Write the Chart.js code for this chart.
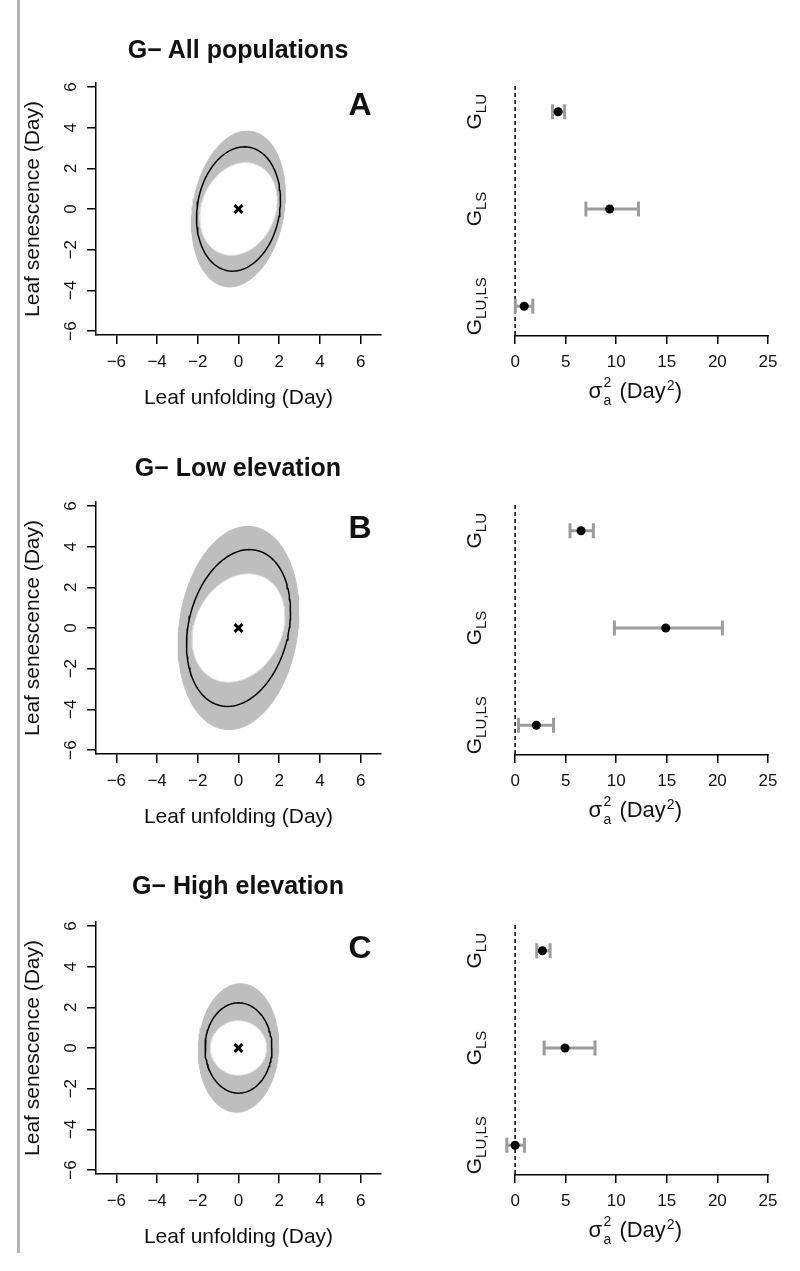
<!DOCTYPE html>
<html lang="en">
<head>
    <meta charset="UTF-8">
    <title>G matrices of leaf phenology</title>
    <script src="https://cdn.jsdelivr.net/npm/chart.js"></script>
    <style>
        body { margin: 0; background: #fff; }
        #page {
            position: relative;
            width: 800px;
            height: 1271px;
            font-family: "Liberation Sans", Arial, sans-serif;
            color: #111;
        }
        #page canvas { position: absolute; }
        .sideBar { position: absolute; left: 17px; top: 0; width: 3px; height: 1253px; background: #b4b4b4; }
        .rowTitle {
            position: absolute; left: 38px; width: 400px;
            text-align: center; font-weight: bold; font-size: 25px; line-height: 25px;
        }
        .letter {
            position: absolute; left: 330px; width: 60px;
            text-align: center; font-weight: bold; font-size: 32px; line-height: 32px;
        }
    </style>
</head>
<body>
<div id="page">
    <div class="sideBar"></div>
</div>

<script>
    // ---- data ----
    const rowTitles = ['G\u2212 All populations', 'G\u2212 Low elevation', 'G\u2212 High elevation'];
    const rowLetters = ['A', 'B', 'C'];
    const leafTicks = [-6, -4, -2, 0, 2, 4, 6];
    const varTicks = [0, 5, 10, 15, 20, 25];
    const components = ['LU', 'LS', 'LU,LS'];
    const componentRows = [3, 2, 1];
    const centreMark = [0, 0];

    // G elements (Day^2), order: var LU, var LS, cov LU-LS
    const modeAll = [4.25, 9.35, 0.9];
    const lowerAll = [3.7, 7.0, 0.02];
    const upperAll = [4.9, 12.2, 1.75];

    const modeLow = [6.52, 14.9, 2.1];
    const lowerLow = [5.43, 9.82, 0.33];
    const upperLow = [7.74, 20.5, 3.8];

    const modeHigh = [2.7, 4.94, 0.0];
    const lowerHigh = [2.14, 2.87, -0.82];
    const upperHigh = [3.46, 7.9, 0.92];

    // outer / inner edge of the grey cloud of posterior ellipses, same order
    const cloudOuterAll = [5.3, 14.7, 1.65];
    const cloudInnerAll = [3.6, 5.2, 0.8];
    const cloudOuterLow = [8.8, 25.0, 2.3];
    const cloudInnerLow = [5.2, 7.1, 1.3];
    const cloudOuterHigh = [3.9, 10.0, 0.3];
    const cloudInnerHigh = [1.9, 1.8, 0.0];

    const rows = [
        { mode: modeAll, lower: lowerAll, upper: upperAll, outer: cloudOuterAll, inner: cloudInnerAll },
        { mode: modeLow, lower: lowerLow, upper: upperLow, outer: cloudOuterLow, inner: cloudInnerLow },
        { mode: modeHigh, lower: lowerHigh, upper: upperHigh, outer: cloudOuterHigh, inner: cloudInnerHigh }
    ];

    // ---- layout (page pixels) ----
    const rowTop = [0, 419, 839];
    const titleTop = [37, 455, 873];
    const letterTop = [88, 511, 931];
    const rightYMin = 0.704, rightYMax = 3.296;

    Chart.defaults.font.family = '"Liberation Sans", Arial, sans-serif';
    Chart.defaults.color = '#111';

    // 1-sd contour of a 2x2 covariance [vx, vy, cov]
    function ellipse(g) {
        const a = Math.sqrt(g[0]);
        const b = g[2] / a;
        const d = Math.sqrt(g[1] - b * b);
        const pts = [];
        for (let k = 0; k <= 120; k++) {
            const t = k / 120 * 2 * Math.PI;
            pts.push({ x: a * Math.cos(t), y: b * Math.cos(t) + d * Math.sin(t) });
        }
        return pts;
    }

    const minusFmt = v => v < 0 ? '\u2212' + Math.abs(v) : String(v);
    const axisGrid = {
        drawOnChartArea: false, drawTicks: true, tickLength: 9,
        color: '#000', tickColor: '#000', lineWidth: 1.5, tickWidth: 1.5
    };
    const tickFont = { size: 17 };

    function leftChart(canvas, r) {
        return new Chart(canvas, {
            type: 'line',
            data: {
                datasets: [
                    { data: [{ x: centreMark[0], y: centreMark[1] }], showLine: false, pointStyle: 'crossRot',
                      pointRadius: 5.5, pointBorderWidth: 3, pointBorderColor: '#000', order: 1 },
                    { data: ellipse(r.mode), borderColor: '#000', borderWidth: 1.5, pointRadius: 0, fill: false, order: 2 },
                    { data: ellipse(r.inner), borderColor: '#e2e2e2', borderWidth: 1, backgroundColor: '#fff',
                      pointRadius: 0, fill: 'shape', order: 3 },
                    { data: ellipse(r.outer), borderColor: '#bebebe', borderWidth: 1, backgroundColor: '#bebebe',
                      pointRadius: 0, fill: 'shape', order: 4 }
                ]
            },
            options: {
                responsive: false,
                animation: false,
                events: [],
                layout: { padding: { left: 0, right: 19, top: 83, bottom: 0 } },
                plugins: { legend: { display: false }, tooltip: { enabled: false } },
                scales: {
                    x: {
                        type: 'linear', min: -7, max: 7,
                        afterBuildTicks: s => { s.ticks = leafTicks.map(v => ({ value: v })); },
                        afterFit: s => { s.height = 84; },
                        grid: axisGrid,
                        border: { display: true, color: '#000', width: 1.5 },
                        ticks: { font: tickFont, padding: 8.5, maxRotation: 0, autoSkip: false, callback: minusFmt },
                        title: { display: true, text: 'Leaf unfolding (Day)', font: { size: 21 },
                                 padding: { top: 0, bottom: 8 } }
                    },
                    y: {
                        type: 'linear', min: -6.2, max: 6.2,
                        afterBuildTicks: s => { s.ticks = leafTicks.map(v => ({ value: v })); },
                        afterFit: s => { s.width = 96; },
                        grid: axisGrid,
                        border: { display: true, color: '#000', width: 1.5 },
                        ticks: { font: tickFont, padding: 5.6, minRotation: 90, crossAlign: 'center',
                                 autoSkip: false, callback: minusFmt },
                        title: { display: true, text: 'Leaf senescence (Day)', font: { size: 21 },
                                 padding: { top: 20.4, bottom: 0 } }
                    }
                }
            }
        });
    }

    // axis line 0..25, rotated G labels and the sigma axis title
    const rightText = {
        id: 'rightText',
        afterDraw(chart) {
            const { ctx, chartArea, scales } = chart;
            const x = scales.x, y = scales.y;
            const fam = Chart.defaults.font.family;
            ctx.save();
            ctx.strokeStyle = '#000';
            ctx.lineWidth = 1.5;
            ctx.beginPath();
            ctx.moveTo(x.getPixelForValue(varTicks[0]) - 0.75, chartArea.bottom + 0.75);
            ctx.lineTo(x.getPixelForValue(varTicks[varTicks.length - 1]) + 0.75, chartArea.bottom + 0.75);
            ctx.stroke();

            ctx.fillStyle = '#111';
            ctx.textBaseline = 'alphabetic';
            ctx.textAlign = 'left';
            components.forEach((c, i) => {
                const py = y.getPixelForValue(componentRows[i]);
                ctx.save();
                ctx.translate(chartArea.left - 24, py);
                ctx.rotate(-Math.PI / 2);
                ctx.font = '21px ' + fam;
                const wG = ctx.measureText('G').width;
                ctx.font = '15px ' + fam;
                const wS = ctx.measureText(c).width;
                const x0 = -(wG + wS) / 2;
                ctx.font = '21px ' + fam;
                ctx.fillText('G', x0, 0);
                ctx.font = '15px ' + fam;
                ctx.fillText(c, x0 + wG, 4.5);
                ctx.restore();
            });

            // sigma^2_a (Day^2)
            const base = chartArea.bottom + 63;
            const big = '22px ' + fam, small = '14px ' + fam;
            ctx.font = big;
            const wSig = ctx.measureText('\u03c3').width;
            const wOpen = ctx.measureText('(Day').width;
            const wClose = ctx.measureText(')').width;
            ctx.font = small;
            const wTwo = ctx.measureText('2').width;
            const total = wSig + 2 + wTwo + 8 + wOpen + 1 + wTwo + wClose;
            let cx = (chartArea.left + chartArea.right) / 2 - 6 - total / 2;
            ctx.font = big;
            ctx.fillText('\u03c3', cx, base);
            cx += wSig + 1.5;
            ctx.font = small;
            ctx.fillText('2', cx, base - 11);
            ctx.fillText('a', cx, base + 7);
            cx += wTwo + 8;
            ctx.font = big;
            ctx.fillText('(Day', cx, base);
            cx += wOpen + 1;
            ctx.font = small;
            ctx.fillText('2', cx, base - 8);
            cx += wTwo;
            ctx.font = big;
            ctx.fillText(')', cx, base);
            ctx.restore();
        }
    };

    function rightChart(canvas, r) {
        const bars = components.map((c, i) => ({
            data: [{ x: r.lower[i], y: componentRows[i] }, { x: r.upper[i], y: componentRows[i] }],
            borderColor: '#9c9c9c', borderWidth: 3,
            pointStyle: 'line', pointRotation: 90, pointRadius: 7.5,
            pointBorderWidth: 3, pointBorderColor: '#9c9c9c', order: 2
        }));
        return new Chart(canvas, {
            type: 'line',
            data: {
                datasets: [
                    { data: r.mode.map((v, i) => ({ x: v, y: componentRows[i] })), showLine: false,
                      pointRadius: 4.5, pointBackgroundColor: '#000', pointBorderWidth: 0, order: 1 },
                    ...bars,
                    { data: [{ x: 0, y: rightYMin }, { x: 0, y: rightYMax }], borderColor: '#000',
                      borderWidth: 1.5, borderDash: [4, 3], pointRadius: 0, order: 3 }
                ]
            },
            options: {
                responsive: false,
                animation: false,
                events: [],
                layout: { padding: { left: 105, right: 22, top: 83, bottom: 0 } },
                plugins: { legend: { display: false }, tooltip: { enabled: false } },
                scales: {
                    x: {
                        type: 'linear', min: -1, max: 26,
                        afterBuildTicks: s => { s.ticks = varTicks.map(v => ({ value: v })); },
                        afterFit: s => { s.height = 84; },
                        grid: axisGrid,
                        border: { display: false },
                        ticks: { font: tickFont, padding: 8.5, maxRotation: 0, autoSkip: false }
                    },
                    y: { type: 'linear', min: rightYMin, max: rightYMax, display: false }
                }
            },
            plugins: [rightText]
        });
    }

    const page = document.getElementById('page');
    rows.forEach((r, k) => {
        const left = document.createElement('canvas');
        left.width = 400; left.height = 419;
        left.style.left = '0px'; left.style.top = rowTop[k] + 'px';
        page.appendChild(left);

        const right = document.createElement('canvas');
        right.width = 400; right.height = 419;
        right.style.left = '400px'; right.style.top = rowTop[k] + 'px';
        page.appendChild(right);

        const t = document.createElement('div');
        t.className = 'rowTitle';
        t.style.top = titleTop[k] + 'px';
        t.textContent = rowTitles[k];
        page.appendChild(t);

        const l = document.createElement('div');
        l.className = 'letter';
        l.style.top = letterTop[k] + 'px';
        l.textContent = rowLetters[k];
        page.appendChild(l);

        leftChart(left, r);
        rightChart(right, r);
    });
</script>
</body>
</html>
